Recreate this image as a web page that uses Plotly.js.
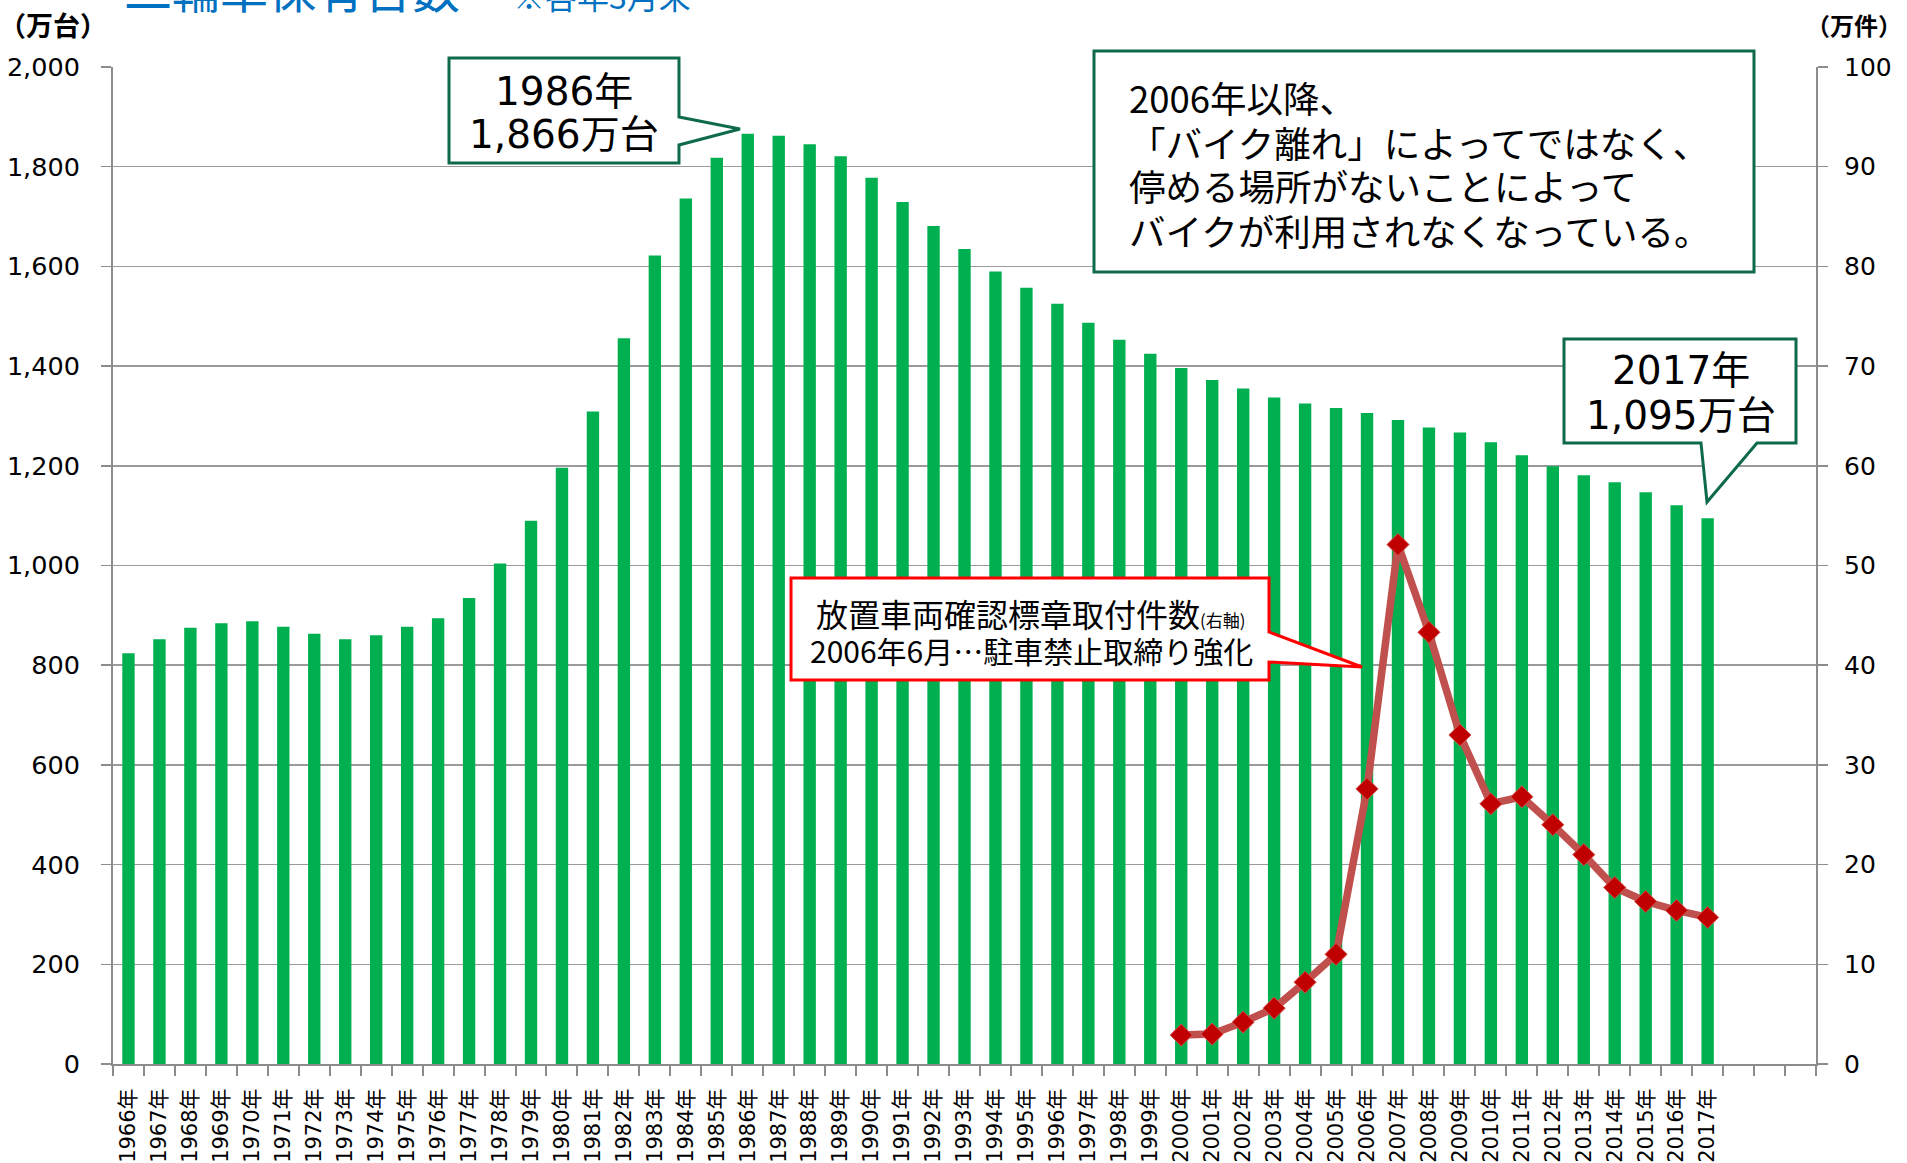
<!DOCTYPE html>
<html>
<head>
<meta charset="utf-8">
<script src="https://cdn.plot.ly/plotly-3.0.1.min.js"></script>
<style>
html,body{margin:0;padding:0;background:#fff;}
#chart{width:1907px;height:1163px;}
</style>
</head>
<body>
<div id="chart"></div>
<script>
// ---- data ----
const years = [1966,1967,1968,1969,1970,1971,1972,1973,1974,1975,1976,1977,1978,1979,1980,1981,1982,1983,1984,1985,1986,1987,1988,1989,1990,1991,1992,1993,1994,1995,1996,1997,1998,1999,2000,2001,2002,2003,2004,2005,2006,2007,2008,2009,2010,2011,2012,2013,2014,2015,2016,2017];
// 二輪車保有台数（万台）
const ownership = [824,852,875,884,888,877,863,852,860,877,894,935,1004,1090,1196,1309,1456,1622,1736,1818,1866,1862,1845,1821,1778,1729,1681,1635,1590,1557,1525,1487,1453,1425,1396,1372,1355,1337,1325,1316,1306,1292,1277,1267,1247,1221,1199,1181,1167,1147,1121,1095];
// 放置車両確認標章取付件数（万件）
const stickerYears = [2000,2001,2002,2003,2004,2005,2006,2007,2008,2009,2010,2011,2012,2013,2014,2015,2016,2017];
const stickerCounts = [2.9,3.0,4.2,5.6,8.2,11.0,27.6,52.1,43.3,33.0,26.1,26.8,24.0,21.0,17.7,16.3,15.4,14.7];
const yearLabels = years.map(y => y + '年');
const leftTicks = [0,200,400,600,800,1000,1200,1400,1600,1800,2000];
const rightTicks = [0,10,20,30,40,50,60,70,80,90,100];

// ---- layout helpers (pixel -> paper) ----
const L = 113, R = 1816, T = 67, B = 1064;
const fx = p => (p - L) / (R - L);
const fy = p => (B - p) / (B - T);
function path(pts){
  return 'M' + pts.map(p => fx(p[0]).toFixed(5) + ',' + fy(p[1]).toFixed(5)).join(' L') + ' Z';
}

const gray = '#8c8c8c';
const jp = '"Noto Sans CJK JP", sans-serif';
const numFont = '"DejaVu Sans", "Noto Sans CJK JP", sans-serif';
const boxGreen = '#0f6a4d';

function txt(x, y, text, size, opts){
  return Object.assign({xref: 'paper', yref: 'paper', x: fx(x), y: fy(y), xanchor: 'center', yanchor: 'middle',
    text: text, showarrow: false, font: {family: jp, size: size, color: '#000'}}, opts || {});
}

const traces = [
  {
    type: 'bar', x: years, y: ownership, yaxis: 'y',
    marker: {color: '#00b050'}, hoverinfo: 'x+y'
  },
  {
    type: 'scatter', mode: 'lines+markers', x: stickerYears, y: stickerCounts, yaxis: 'y2',
    line: {color: '#c0504d', width: 7.5},
    marker: {symbol: 'diamond', size: 17, color: '#c00000', line: {color: '#d2504d', width: 1}}
  }
];

const layout = {
  width: 1907, height: 1163,
  margin: {l: L, r: 1907 - R, t: T, b: 1163 - B},
  paper_bgcolor: '#fff', plot_bgcolor: '#fff',
  showlegend: false,
  bargap: 0.6,
  xaxis: {
    type: 'linear', range: [1965.5, 2020.5],
    tickmode: 'array', tickvals: years, ticktext: yearLabels,
    tickangle: -90, ticks: '',
    showline: true, linecolor: gray, linewidth: 2,
    showgrid: false, zeroline: false,
    tickfont: {family: numFont, size: 21, color: '#000'},
    ticklabelstandoff: 14,
    minor: {tickmode: 'linear', tick0: 1965.5, dtick: 1, ticks: 'outside', ticklen: 10, tickcolor: gray, tickwidth: 2, showgrid: false}
  },
  yaxis: {
    range: [0, 2000], tickmode: 'array', tickvals: leftTicks, tickformat: ',',
    showline: true, linecolor: gray, linewidth: 2,
    showgrid: true, gridcolor: '#9a9a9a', gridwidth: 1.5, zeroline: false,
    ticks: 'outside', ticklen: 10, tickcolor: gray, tickwidth: 1.5,
    tickfont: {family: numFont, size: 25.5, color: '#000'},
    ticklabelstandoff: 16
  },
  yaxis2: {
    overlaying: 'y', side: 'right',
    range: [0, 100], tickmode: 'array', tickvals: rightTicks,
    showline: true, linecolor: gray, linewidth: 2,
    showgrid: false, zeroline: false,
    ticks: 'outside', ticklen: 10, tickcolor: gray, tickwidth: 1.5,
    tickfont: {family: numFont, size: 25, color: '#000'},
    ticklabelstandoff: 11
  },
  shapes: [
    // 1986 callout
    {type: 'path', xref: 'paper', yref: 'paper', layer: 'above',
     path: path([[449,58],[679,58],[679,117],[740,129],[679,145],[679,163],[449,163]]),
     fillcolor: '#fff', line: {color: boxGreen, width: 3}},
    // message box
    {type: 'path', xref: 'paper', yref: 'paper', layer: 'above',
     path: path([[1094,51],[1754,51],[1754,272],[1094,272]]),
     fillcolor: '#fff', line: {color: boxGreen, width: 3}},
    // 2017 callout
    {type: 'path', xref: 'paper', yref: 'paper', layer: 'above',
     path: path([[1564,339],[1796,339],[1796,443],[1757,443],[1707,502],[1701,443],[1564,443]]),
     fillcolor: '#fff', line: {color: boxGreen, width: 3}},
    // red callout
    {type: 'path', xref: 'paper', yref: 'paper', layer: 'above',
     path: path([[791,578],[1269,578],[1269,632],[1362,667],[1269,662],[1269,680],[791,680]]),
     fillcolor: '#fff', line: {color: '#ff0000', width: 3}}
  ],
  annotations: [
    txt(122, 24, '二輪車保有台数', 48, {xanchor: 'left', yanchor: 'bottom', font: {family: jp, size: 48, color: '#0070c0'}}),
    txt(511, 20, '※各年3月末', 32, {xanchor: 'left', yanchor: 'bottom', font: {family: jp, size: 32, color: '#0070c0'}}),
    txt(53, 24, '<b>（万台）</b>', 27),
    txt(1854, 24, '<b>（万件）</b>', 24),
    // 1986 callout text
    txt(564, 91, '1986年', 39, {font: {family: numFont, size: 39, color: '#000'}}),
    txt(564, 135, '1,866万台', 39, {font: {family: numFont, size: 39, color: '#000'}}),
    // 2017 callout text
    txt(1681, 371, '2017年', 39, {font: {family: numFont, size: 39, color: '#000'}}),
    txt(1681, 415, '1,095万台', 39, {font: {family: numFont, size: 39, color: '#000'}}),
    // message box
    txt(1127, 97, '2006年以降、', 36.5, {xanchor: 'left'}),
    txt(1127, 142, '「バイク離れ」によってではなく、', 36.5, {xanchor: 'left'}),
    txt(1127, 186, '停める場所がないことによって', 36.5, {xanchor: 'left'}),
    txt(1127, 230, 'バイクが利用されなくなっている。', 36.5, {xanchor: 'left'}),
    // red callout text
    txt(1031, 613, '放置車両確認標章取付件数<span style="font-size:17px">(右軸)</span>', 32),
    txt(1031, 650, '2006年6月…駐車禁止取締り強化', 30)
  ]
};

Plotly.newPlot('chart', traces, layout, {displayModeBar: false, staticPlot: true});
</script>
</body>
</html>
